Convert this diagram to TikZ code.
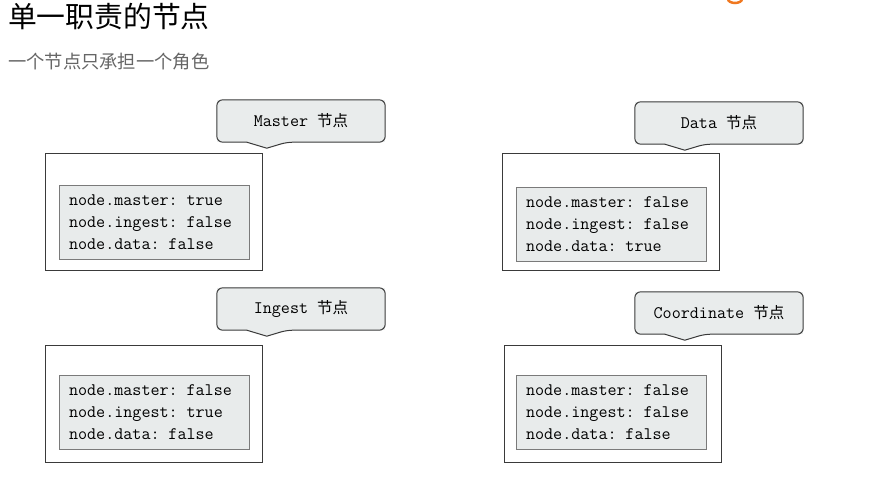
\documentclass[tikz,border=0pt]{standalone}
\usepackage{fontspec}
\setmainfont{Noto Sans CJK SC}
\newfontfamily\cjkf{Noto Sans CJK SC}
\usetikzlibrary{calc}
\definecolor{boxgrey}{HTML}{E8EBEB}
\definecolor{calloutgrey}{HTML}{E9ECEC}
\definecolor{edgegrey}{HTML}{7A7A7A}
\definecolor{darkline}{HTML}{3A3A3A}
\definecolor{subgrey}{HTML}{666666}
\definecolor{accent}{HTML}{F07820}
\tikzset{
  outerbox/.style={draw=darkline, line width=1pt, fill=white, minimum width=217pt, minimum height=117pt, inner sep=0pt},
  innerbox/.style={draw=edgegrey, line width=0.8pt, fill=boxgrey, minimum width=190pt, minimum height=74pt, inner sep=0pt, text width=170pt, align=left, font=\ttfamily\fontsize{17.6}{22}\selectfont, text=black},
  callout/.style={minimum width=168pt, minimum height=42pt, inner sep=0pt, font=\ttfamily\fontsize{17.6}{18}\selectfont, text=black},
  calloutline/.style={draw=darkline, line width=1pt, fill=calloutgrey},
}
\newcommand{\callshape}[1]{%
  \fill[calloutgrey] (#1.south west) rectangle (#1.north east);
  \draw[calloutline] (#1.west) [rounded corners=6pt] -- (#1.north west) -- (#1.north east) -- (#1.south east)
    -- ($(#1.south west)+(70,0)$) [sharp corners] -- ($(#1.south west)+(50,6)$) -- ($(#1.south west)+(30,0)$)
    [rounded corners=6pt] -- (#1.south west) -- cycle;
}
\begin{document}
\begin{tikzpicture}[x=1pt,y=-1pt]
\useasboundingbox (0,0) rectangle (873,479);
\begin{scope}
  \clip (0,0) rectangle (873,479);
  \draw[accent, line width=2.5pt] (728,-1) arc[start angle=180, end angle=0, x radius=7, y radius=4];
\end{scope}

\node[anchor=west, font=\fontsize{28.8}{30}\selectfont, text=black, inner sep=0pt] (title) at (8,17) {单一职责的节点};
\node[anchor=west, font=\fontsize{18.3}{21}\selectfont, text=subgrey, inner sep=0pt] (sub) at (8,62) {一个节点只承担一个角色};

% top-left: master
\node[outerbox] (o1) at (153.5,211.5) {};
\node[innerbox] (i1) at (154,222) {node.master: true\\node.ingest: false\\node.data: false};
\node[callout] (c1) at (301,121) {};
\callshape{c1}
\node[callout] (t1) at (c1) {Master {\cjkf\fontsize{15.5}{18}\selectfont 节点}};

% top-right: data
\node[outerbox] (o2) at (611,212) {};
\node[innerbox] (i2) at (611,224) {node.master: false\\node.ingest: false\\node.data: true};
\node[callout] (c2) at (719,123) {};
\callshape{c2}
\node[callout] (t2) at (c2) {Data {\cjkf\fontsize{15.5}{18}\selectfont 节点}};

% bottom-left: ingest
\node[outerbox] (o3) at (153.5,403.5) {};
\node[innerbox] (i3) at (154,412.5) {node.master: false\\node.ingest: true\\node.data: false};
\node[callout] (c3) at (301,309) {};
\callshape{c3}
\node[callout] (t3) at (c3) {Ingest {\cjkf\fontsize{15.5}{18}\selectfont 节点}};

% bottom-right: coordinate
\node[outerbox] (o4) at (613,403.5) {};
\node[innerbox] (i4) at (611,412.5) {node.master: false\\node.ingest: false\\node.data: false};
\node[callout] (c4) at (719,313) {};
\callshape{c4}
\node[callout] (t4) at (c4) {Coordinate {\cjkf\fontsize{15.5}{18}\selectfont 节点}};
\end{tikzpicture}
\end{document}
